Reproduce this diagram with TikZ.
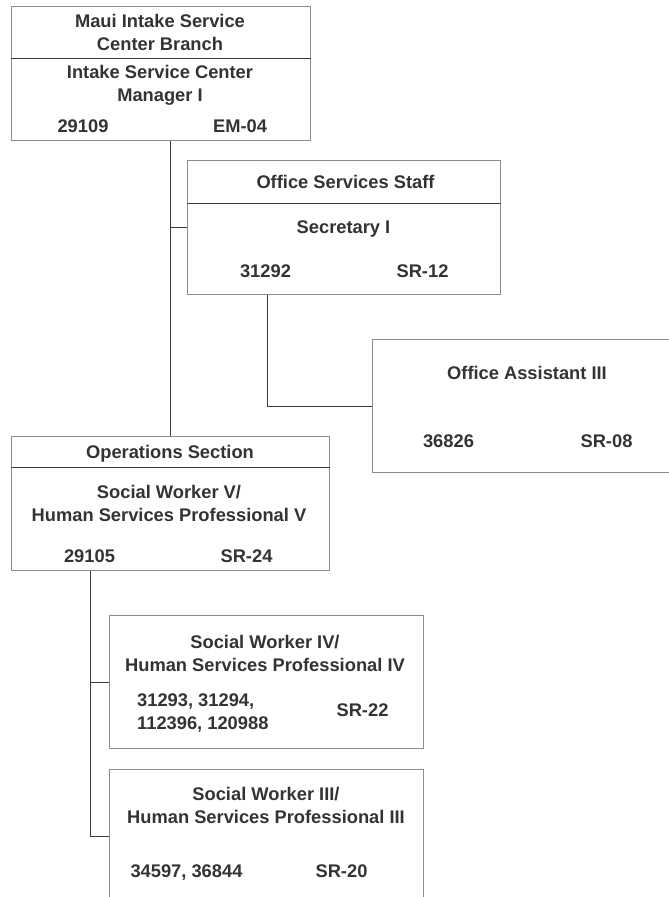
\documentclass[tikz,border=0pt]{standalone}
\usepackage{fontspec}
\setmainfont{Liberation Sans}
\definecolor{boxc}{HTML}{8C8C8C}
\definecolor{linec}{HTML}{3C3C3C}
\definecolor{txtc}{HTML}{333333}
\begin{document}
\begin{tikzpicture}[x=1pt,y=-1pt,
  box/.style={draw=boxc, line width=1pt, rectangle, inner sep=0pt, anchor=north west},
  divider/.style={draw=linec, line width=1pt},
  conn/.style={draw=linec, line width=1pt},
  txt/.style={inner sep=0pt, anchor=north, text=txtc, align=center,
    font=\bfseries\fontsize{18.3}{23}\selectfont}]
\useasboundingbox (0,0) rectangle (669,897);
\clip (0,0) rectangle (669,897);
% boxes
\node[box, minimum width=299pt, minimum height=134pt] (top) at (11,6) {};
\node[box, minimum width=313pt, minimum height=134pt] (office) at (187,160) {};
\node[box, minimum width=340pt, minimum height=133pt] (oa) at (372,339) {};
\node[box, minimum width=318pt, minimum height=134pt] (ops) at (11,436) {};
\node[box, minimum width=314pt, minimum height=133pt] (sw4) at (109,615) {};
\node[box, minimum width=314pt, minimum height=133pt] (sw3) at (109,769) {};
% dividers
\draw[divider] ([yshift=-52pt]top.north west) -- ([yshift=-52pt]top.north east);
\draw[divider] ([yshift=-43pt]office.north west) -- ([yshift=-43pt]office.north east);
\draw[divider] ([yshift=-31pt]ops.north west) -- ([yshift=-31pt]ops.north east);
% texts
\node[txt] (t1) at (160,14.5) {Maui Intake Service\\Center Branch};
\node[txt] (t2) at (160,65.5) {Intake Service Center\\Manager I};
\node[txt] (t3) at (83,119.5) {29109};
\node[txt] (t4) at (240,119.5) {EM-04};
\node[txt] (o1) at (345.5,175.5) {Office Services Staff};
\node[txt] (o2) at (343.5,220.5) {Secretary I};
\node[txt] (o3) at (265.5,265) {31292};
\node[txt] (o4) at (422.5,265) {SR-12};
\node[txt] (a1) at (527,366) {Office Assistant III};
\node[txt] (a2) at (448.5,435) {36826};
\node[txt] (a3) at (606.5,435) {SR-08};
\node[txt] (p1) at (170,445) {Operations Section};
\node[txt] (p2) at (169,485) {Social Worker V/\\Human Services Professional V};
\node[txt] (p3) at (89.5,549.5) {29105};
\node[txt] (p4) at (246.5,549.5) {SR-24};
\node[txt] (s1) at (265,635) {Social Worker IV/\\Human Services Professional IV};
\node[txt, anchor=north west, align=left] (s2) at (137,693.5) {31293, 31294,\\112396, 120988};
\node[txt] (s3) at (362.5,703.5) {SR-22};
\node[txt] (r1) at (266,787) {Social Worker III/\\Human Services Professional III};
\node[txt] (r2) at (186.5,865) {34597, 36844};
\node[txt] (r3) at (341.5,865) {SR-20};
% connectors
\draw[conn] (ops.north) -- (ops.north |- top.south);
\draw[conn] (office.west) -- (office.west -| ops.north);
\draw[conn] ([xshift=-76.5pt]office.south) |- (oa.west);
\coordinate (opsdrop) at ([xshift=-80pt]ops.south);
\draw[conn] (opsdrop) |- (sw3.west);
\draw[conn] (sw4.west) -- (sw4.west -| opsdrop);
\end{tikzpicture}
\end{document}
